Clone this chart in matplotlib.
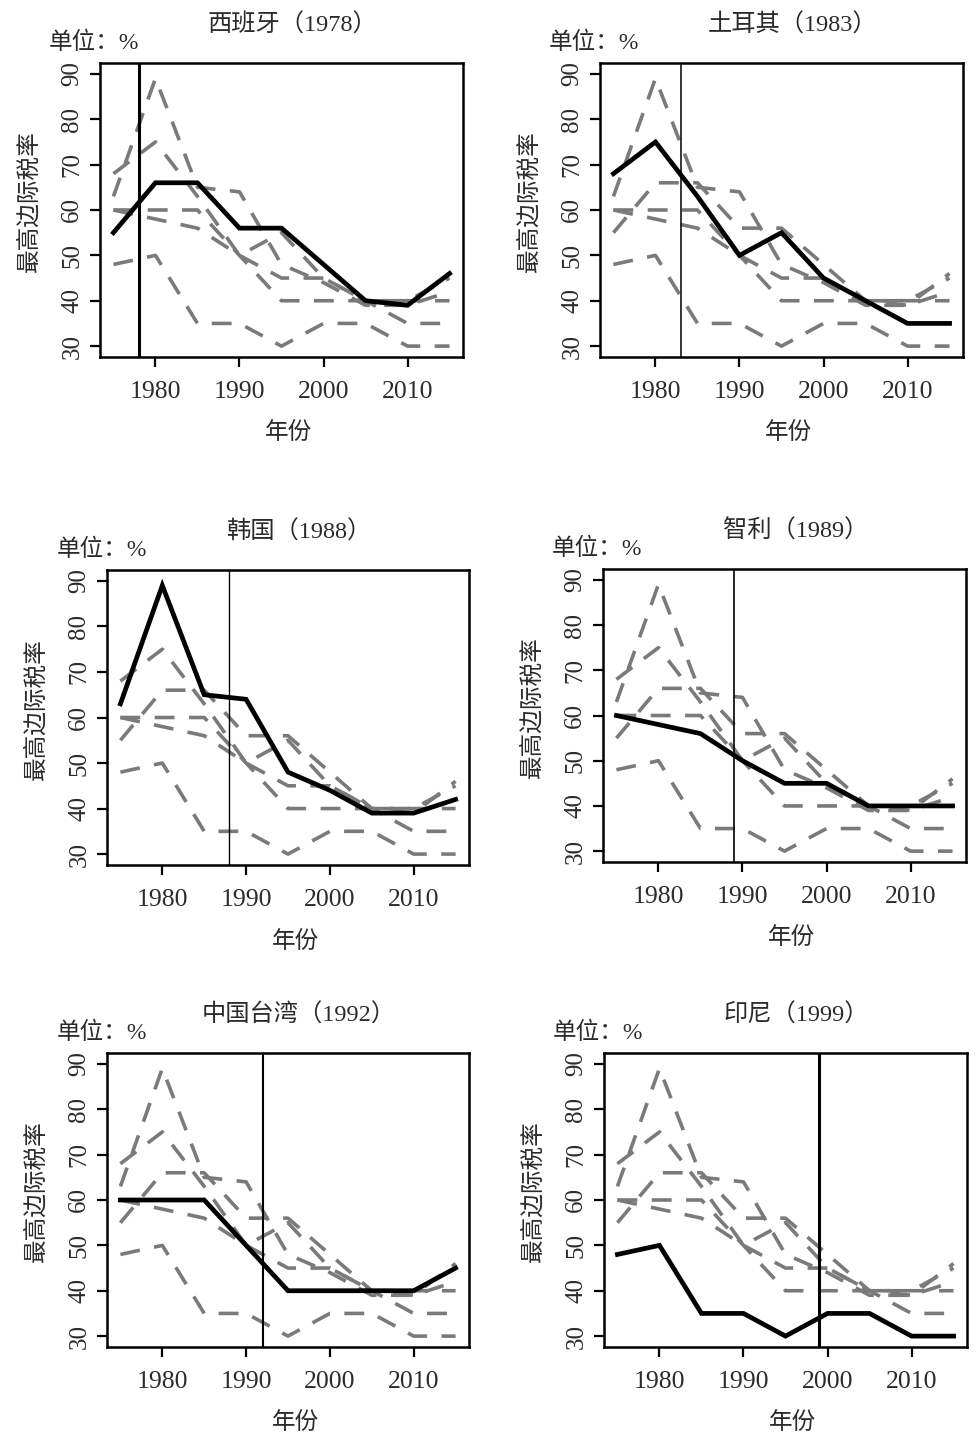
import matplotlib
matplotlib.use("Agg")
import matplotlib.pyplot as plt

# 年份
years = [1975, 1980, 1985, 1990, 1995, 2000, 2005, 2010, 2015]

# 各国最高边际税率（%）
spain = [55, 66, 66, 56, 56, 48, 40, 39, 46]
turkey = [68, 75, 63, 50, 55, 45, 40, 35, 35]
korea = [63, 89, 65, 64, 48, 44, 39, 39, 42]
chile = [60, 58, 56, 50, 45, 45, 40, 40, 40]
taiwan = [60, 60, 60, 50, 40, 40, 40, 40, 45]
indonesia = [48, 50, 35, 35, 30, 35, 35, 30, 30]

names = ["西班牙", "土耳其", "韩国", "智利", "中国台湾", "印尼"]
demo_years = [1978, 1983, 1988, 1989, 1992, 1999]
series = [spain, turkey, korea, chile, taiwan, indonesia]

x_ticks = [1980, 1990, 2000, 2010]
y_ticks = [30, 40, 50, 60, 70, 80, 90]

FONT = ["Liberation Serif", "Noto Sans CJK SC"]
TXT = "#2b2b2b"
plt.rcParams["font.family"] = FONT

W, H = 976, 1442
fig = plt.figure(figsize=(W / 100, H / 100), dpi=100)

# 每个面板的像素框（左, 上, 右, 下）
boxes = [(100, 63, 463, 357), (600, 63, 963, 357),
         (107, 570, 469, 865), (603, 569, 966, 862),
         (107, 1053, 469, 1347), (604, 1053, 967, 1347)]
vline_w = [2.2, 1.1, 1.0, 1.2, 1.5, 2.2]

for i, (l, t, r, b) in enumerate(boxes):
    ax = fig.add_axes([l / W, 1 - b / H, (r - l) / W, (b - t) / H])
    # 其他国家：灰色虚线
    for j, s in enumerate(series):
        if j == i:
            continue
        ax.plot(years, s, color="#7a7a7a", lw=2.6, dashes=(5.5, 4),
                dash_capstyle="butt", zorder=2)
    ax.axvline(demo_years[i], color="black", lw=vline_w[i], zorder=3)
    ax.plot(years, series[i], color="black", lw=3.4, zorder=4,
            solid_joinstyle="miter")

    ax.set_xlim(1973.4, 2016.6)
    ax.set_ylim(27.6, 92.4)
    ax.set_xticks(x_ticks)
    ax.set_yticks(y_ticks)
    ax.set_xticklabels([str(v) for v in x_ticks], fontsize=18.5, color=TXT)
    ax.set_yticklabels([str(v) for v in y_ticks], fontsize=18, color=TXT,
                       rotation=90, va="center")
    ax.tick_params(axis="both", direction="out", length=7, width=1.6,
                   color="black")
    ax.tick_params(axis="x", pad=10)
    ax.tick_params(axis="y", pad=5)
    for sp in ax.spines.values():
        sp.set_linewidth(1.8)

    ax.text(0.53, 1.13, f"{names[i]}（{demo_years[i]}）", transform=ax.transAxes,
            ha="center", va="center", fontsize=17.5, color=TXT)
    ax.text(-0.14, 1.068, "单位：%", transform=ax.transAxes,
            ha="left", va="center", fontsize=17, color=TXT)
    ax.text(-0.195, 0.53, "最高边际税率", transform=ax.transAxes, rotation=90,
            ha="center", va="center", fontsize=17, color=TXT)
    ax.text(0.52, -0.26, "年份", transform=ax.transAxes,
            ha="center", va="center", fontsize=17, color=TXT)

fig.savefig("out.png", dpi=100, facecolor="white")
